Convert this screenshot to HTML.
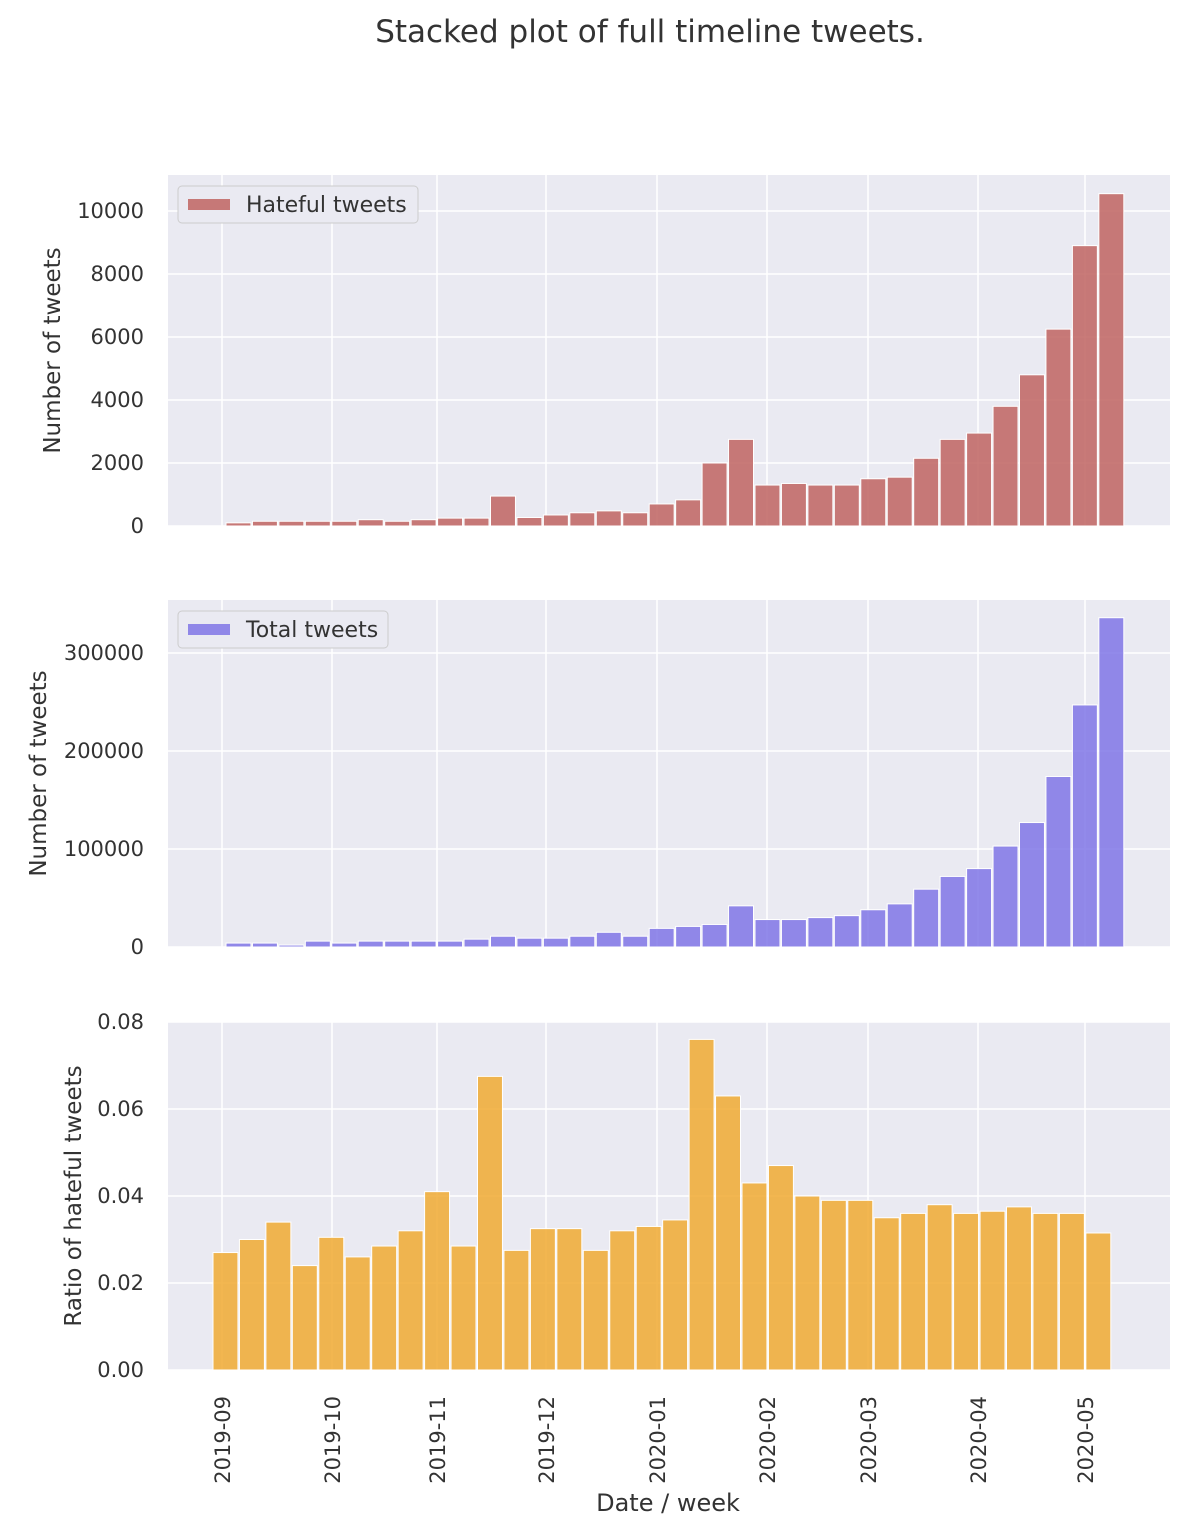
<!DOCTYPE html>
<html><head><meta charset="utf-8"><style>
body{margin:0;background:#fff;}
svg{display:block;font-family:"DejaVu Sans","Liberation Sans",sans-serif;}
</style></head><body>
<svg id="c" width="1202" height="1530" viewBox="0 0 1202 1530">
<text x="650" y="42" text-anchor="middle" font-size="31" fill="#333">Stacked plot of full timeline tweets.</text>
</svg>
<script>
const hateful=[100,150,150,150,150,200,150,200,250,250,950,270,350,420,480,420,700,830,2000,2750,1300,1350,1300,1300,1500,1550,2150,2750,2950,3800,4800,6250,8900,10550];
const total=[4000,4000,2000,6000,4000,6000,6000,6000,6000,8000,11000,9000,9000,11000,15000,11000,19000,21000,23000,42000,28000,28000,30000,32000,38000,44000,59000,72000,80000,103000,127000,174000,247000,336000];
const ratio=[0.027,0.030,0.034,0.024,0.0305,0.026,0.0285,0.032,0.041,0.0285,0.0675,0.0275,0.0325,0.0325,0.0275,0.032,0.033,0.0345,0.076,0.063,0.043,0.047,0.040,0.039,0.039,0.035,0.036,0.038,0.036,0.0365,0.0375,0.036,0.036,0.0315];
const months=["2019-09","2019-10","2019-11","2019-12","2020-01","2020-02","2020-03","2020-04","2020-05"];
const monthX=[222,332,437,546,657,767,868,978,1085];
const hTicks=[0,2000,4000,6000,8000,10000];
const tTicks=[0,100000,200000,300000];
const rTicks=[0,0.02,0.04,0.06,0.08];
const NS="http://www.w3.org/2000/svg";
const svg=document.getElementById('c');
function el(t,a,p){const e=document.createElementNS(NS,t);for(const k in a)e.setAttribute(k,a[k]);(p||svg).appendChild(e);return e;}
const L=168,R=1170,step=26.45;
function panel(top,bot,max,ticks,fmt,vals,color,x0,name,legend,lw,ylabel){
  const g=el('g',{});
  
  
  el('rect',{x:L,y:top,width:R-L,height:bot-top,fill:'#eaeaf2'},g);
  const y=v=>bot-(v/max)*(bot-top);
  ticks.forEach(t=>{
    el('line',{x1:L,x2:R,y1:y(t),y2:y(t),stroke:'#fff','stroke-width':1.5},g);
    const tx=el('text',{x:L-24,y:y(t)+7,'text-anchor':'end','font-size':21,fill:'#333'},g);
    tx.textContent=fmt(t);
    
    
  });
  monthX.forEach(mx=>el('line',{x1:mx,x2:mx,y1:top,y2:bot,stroke:'#fff','stroke-width':1.5},g));
  vals.forEach((v,i)=>{
    const b=el('rect',{x:x0+i*step,y:y(v),width:step-1.5,height:bot-y(v),fill:color,stroke:'#fff','stroke-width':1},g);
    
    
  });
  if(legend){
    const lg=el('g',{},g);
    
    
    el('rect',{x:178,y:top+11,width:lw,height:37,rx:4,fill:'#eaeaf2',stroke:'#ccc'},lg);
    el('rect',{x:188,y:top+24,width:42,height:11,fill:color},lg);
    const t=el('text',{x:246,y:top+37,'font-size':22,fill:'#333'},lg);t.textContent=legend;
  }
  const cy=(top+bot)/2;
  const yl=el('text',{x:0,y:0,transform:`translate(${ylabel[1]},${cy}) rotate(-90)`,'text-anchor':'middle','font-size':23,fill:'#333'},g);
  yl.textContent=ylabel[0];
  
  
}
panel(175,526,10000*351/315,hTicks,t=>String(t),hateful,'rgba(192,100,98,0.85)',226,'hateful',"Hateful tweets",240,["Number of tweets",60]);
panel(600,947,100000*347/98,tTicks,t=>String(t),total,'rgba(128,117,230,0.85)',226,'total',"Total tweets",210,["Number of tweets",46]);
panel(1022,1370,0.08,rTicks,t=>t.toFixed(2),ratio,'rgba(240,170,50,0.85)',213,'ratio',null,0,["Ratio of hateful tweets",81]);
months.forEach((m,i)=>{
  const t=el('text',{x:0,y:0,transform:`translate(${monthX[i]+8},1396) rotate(-90)`,'text-anchor':'end','font-size':21,fill:'#333'});
  t.textContent=m;
  
  
});
const xt=el('text',{x:668,y:1511,'text-anchor':'middle','font-size':24,fill:'#333'});
xt.textContent="Date / week";


</script>
</body></html>
